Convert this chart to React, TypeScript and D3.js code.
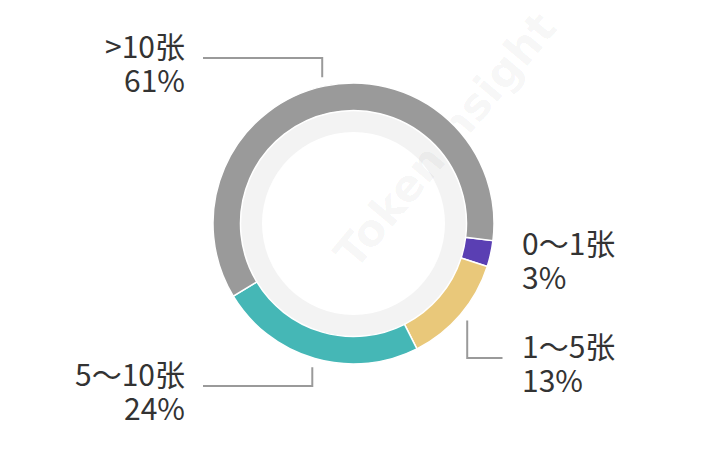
import * as d3 from "d3";

// Donut of card-count buckets with side labels and elbow leader lines.

const CATEGORIES = ["0～1张", "1～5张", "5～10张", ">10张"];
const SHARES = [3.0, 12.6, 23.8, 60.6];
const COLORS = ["#5a3fb3", "#e9c87a", "#45b7b6", "#9a9a9a"];
// vertical centre of each two-line label block
const LABEL_CENTER_Y = [259, 362, 390, 62];

const WIDTH = 702;
const HEIGHT = 470;
const CX = 353.5;
const CY = 223.5;
const OUTER = 140.5;
const INNER = 113;
const HOLE = 91.5;
const START = (97 * Math.PI) / 180;
const FONT = "'Noto Sans CJK SC', 'Noto Sans', sans-serif";

type Row = { name: string; value: number; color: string; labelY: number };

export default function App() {
  const rows: Row[] = CATEGORIES.map((name, i) => ({
    name,
    value: SHARES[i],
    color: COLORS[i],
    labelY: LABEL_CENTER_Y[i],
  }));
  const total = d3.sum(rows, (d) => d.value);

  const pie = d3
    .pie<Row>()
    .value((d) => d.value)
    .sort(null)
    .startAngle(START)
    .endAngle(START + 2 * Math.PI);
  const arcs = pie(rows);

  const arc = d3.arc<d3.PieArcDatum<Row>>().innerRadius(INNER).outerRadius(OUTER);

  return (
    <svg
      width={WIDTH}
      height={HEIGHT}
      style={{ position: "absolute", left: 0, top: 0, background: "#fff" }}
      fontFamily={FONT}
    >
      <circle cx={CX} cy={CY} r={INNER} fill="#f3f3f3" />
      <circle cx={CX} cy={CY} r={HOLE} fill="#fff" />

      <text
        transform="translate(445,140) rotate(-50)"
        textAnchor="middle"
        dominantBaseline="central"
        fontSize={44}
        fontWeight={700}
        fontFamily="'DejaVu Sans', sans-serif"
        fill="#000"
        fillOpacity={0.045}
      >
        TokenInsight
      </text>

      <g transform={`translate(${CX},${CY})`}>
        {arcs.map((a) => (
          <path key={a.data.name} d={arc(a) ?? ""} fill={a.data.color} stroke="#fff" strokeWidth={1.5} />
        ))}
      </g>

      {arcs.map((a) => {
        const mid = (a.startAngle + a.endAngle) / 2;
        const right = Math.sin(mid) > 0;
        const r0 = OUTER + 9;
        const x0 = CX + r0 * Math.sin(mid);
        const y0 = CY - r0 * Math.cos(mid);
        const lineY = a.data.labelY - 4;
        const x1 = right ? CX + 149 : CX - 150.5;
        const tx = right ? x1 + 19.5 : x1 - 18;
        const len = Math.abs(lineY - y0) + Math.abs(x1 - x0);
        const pct = `${Math.round((a.data.value / total) * 100)}%`;
        const anchor = right ? "start" : "end";
        return (
          <g key={a.data.name}>
            {len > 10 && (
              <polyline
                points={`${x0},${y0} ${x0},${lineY} ${x1},${lineY}`}
                fill="none"
                stroke="#9a9a9a"
                strokeWidth={2}
              />
            )}
            <text x={tx} y={a.data.labelY - 17} textAnchor={anchor} fontSize={30} fill="#333" dominantBaseline="central">
              {a.data.name}
            </text>
            <text x={tx} y={a.data.labelY + 17} textAnchor={anchor} fontSize={30} fill="#333" dominantBaseline="central">
              {pct}
            </text>
          </g>
        );
      })}
    </svg>
  );
}
